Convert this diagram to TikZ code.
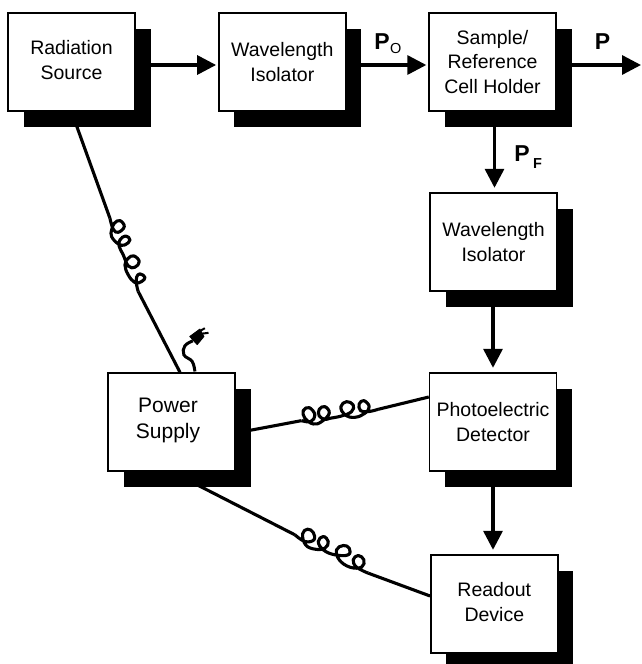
\documentclass[tikz,border=0pt]{standalone}
\usepackage{fontspec}
\setmainfont{Liberation Sans}
\usetikzlibrary{arrows.meta,shadows}
\tikzset{
  unitbox/.style={draw=black, line width=1.4pt, fill=white, minimum width=127pt, minimum height=98pt,
    inner sep=0pt, align=center, font=\fontsize{19.5}{24.5}\selectfont,
    drop shadow={fill=black, opacity=1, shadow xshift=15.5pt, shadow yshift=-16pt}},
  beam/.style={line width=3.3pt, shorten >=2pt, -{Triangle[length=19pt,width=19pt]}},
  beamdown/.style={beam, shorten >=4.5pt},
  cable/.style={line width=3.1pt, line join=round},
  powerlabel/.style={font=\fontsize{23}{23}\selectfont\bfseries, inner sep=0pt}
}
\newcommand{\subfont}{\fontsize{14.5}{14.5}\selectfont}
\begin{document}
\begin{tikzpicture}[x=1pt,y=-1pt]
  \useasboundingbox (0,0) rectangle (641,664);
  % boxes
  \node[unitbox, text depth=4.5pt] (source) at (71.5,62) {Radiation\\Source};
  \node[unitbox] (isolatorA) at (282.3,62) {Wavelength\\Isolator};
  \node[unitbox] (holder) at (492.5,62) {Sample/\\Reference\\Cell Holder};
  \node[unitbox] (isolatorB) at (493.5,242) {Wavelength\\Isolator};
  \node[unitbox] (detector) at (493,422) {Photoelectric\\Detector};
  \node[unitbox, text depth=4.5pt] (readout) at (494.3,604) {Readout\\Device};
  \node[unitbox, text depth=8pt, font=\fontsize{21}{26}\selectfont] (power) at (171.5,422)
    {Power\hspace*{7pt}\\Supply\hspace*{7pt}};
  \coordinate (out) at (641,65);
  % light path
  \draw[beam] ([yshift=-3pt]source.east) -- ([yshift=-3pt]isolatorA.west);
  \draw[beam] ([yshift=-3pt]isolatorA.east) -- ([yshift=-3pt]holder.west);
  \draw[beam, shorten >=0pt] ([yshift=-3pt]holder.east) -- (out);
  \draw[beamdown] ([xshift=2pt]holder.south) -- ([xshift=1pt]isolatorB.north);
  \draw[beamdown] ([xshift=-0.5pt]isolatorB.south) -- (detector.north);
  \draw[beamdown] (detector.south) -- ([xshift=-1.3pt]readout.north);
  \node[powerlabel] (pzero) at (382,41.5) {P};
  \node[font=\subfont, anchor=west, inner sep=0pt] (pzerosub) at (pzero.east) [yshift=-7.5pt] {O};
  \node[powerlabel] (pout) at (602.5,41.5) {P};
  \node[powerlabel] (pf) at (522,153.5) {P};
  \node[font=\subfont\bfseries, anchor=west, inner sep=0pt] (pfsub) at (pf.east) [xshift=3pt,yshift=-10.5pt] {F};
  % cables, coil coordinates read off at 3x
  \begin{scope}[shift={(60,180)},x=0.333pt,y=-0.333pt]
    \draw[cable] plot[smooth,tension=0.7] coordinates {(150,115) (160,148) (175,157) (193,140) (180,122) (163,130) (155,150) (155,170)
      (175,192) (195,195) (210,180) (197,168) (180,180) (178,200) (190,225) (205,258) (225,262) (238,245) (222,228) (205,235) (195,255)
      (205,285) (225,308) (245,305) (255,292) (240,282) (230,292) (230,315) (235,335)};
    \coordinate (coilAin) at (150,115);
    \coordinate (coilAout) at (235,335);
    \draw[line width=3pt] plot[smooth,tension=0.7] coordinates {(405,575) (397,545) (372,525) (375,498) (399,483)};
    \fill[draw, line width=1pt, line join=round] (390,470) -- (420,448) -- (432,470) -- (412,494) -- cycle;
    \draw[line width=2pt] (422,462) -- (446,459) (418,455) -- (435,445);
  \end{scope}
  \begin{scope}[shift={(240,380)},x=0.333pt,y=-0.333pt]
    \draw[cable] plot[smooth,tension=0.7] coordinates {(185,122) (212,125) (225,105) (208,83) (190,92) (195,115) (220,132)
      (245,125) (268,100) (255,80) (238,88) (238,108) (255,118) (270,115) (305,108) (335,95) (340,75) (320,65) (303,80) (315,105)
      (345,112) (375,100) (388,80) (372,62) (358,72) (362,92) (385,95) (415,88)};
    \coordinate (coilBin) at (185,122);
    \coordinate (coilBout) at (415,88);
    \draw[cable] plot[smooth,tension=0.7] coordinates {(165,465) (195,485) (222,480) (220,458) (203,448) (188,462) (197,495)
      (225,508) (255,505) (265,485) (250,470) (235,485) (250,510) (285,525) (325,525) (328,505) (310,497) (290,510) (298,540)
      (330,562) (365,562) (372,540) (355,527) (340,540) (350,562) (385,580)};
    \coordinate (coilCin) at (165,465);
    \coordinate (coilCout) at (385,580);
  \end{scope}
  \draw[cable] (source.south) -- (coilAin);
  \draw[cable] (coilAout) -- ([xshift=8.5pt]power.north);
  \draw[cable] ([yshift=-11pt]power.east) -- (coilBin);
  \draw[cable] (coilBout) -- ([yshift=25pt]detector.west);
  \draw[cable] (power.south) -- (coilCin);
  \draw[cable] (coilCout) -- ([yshift=8pt]readout.west);
\end{tikzpicture}
\end{document}
